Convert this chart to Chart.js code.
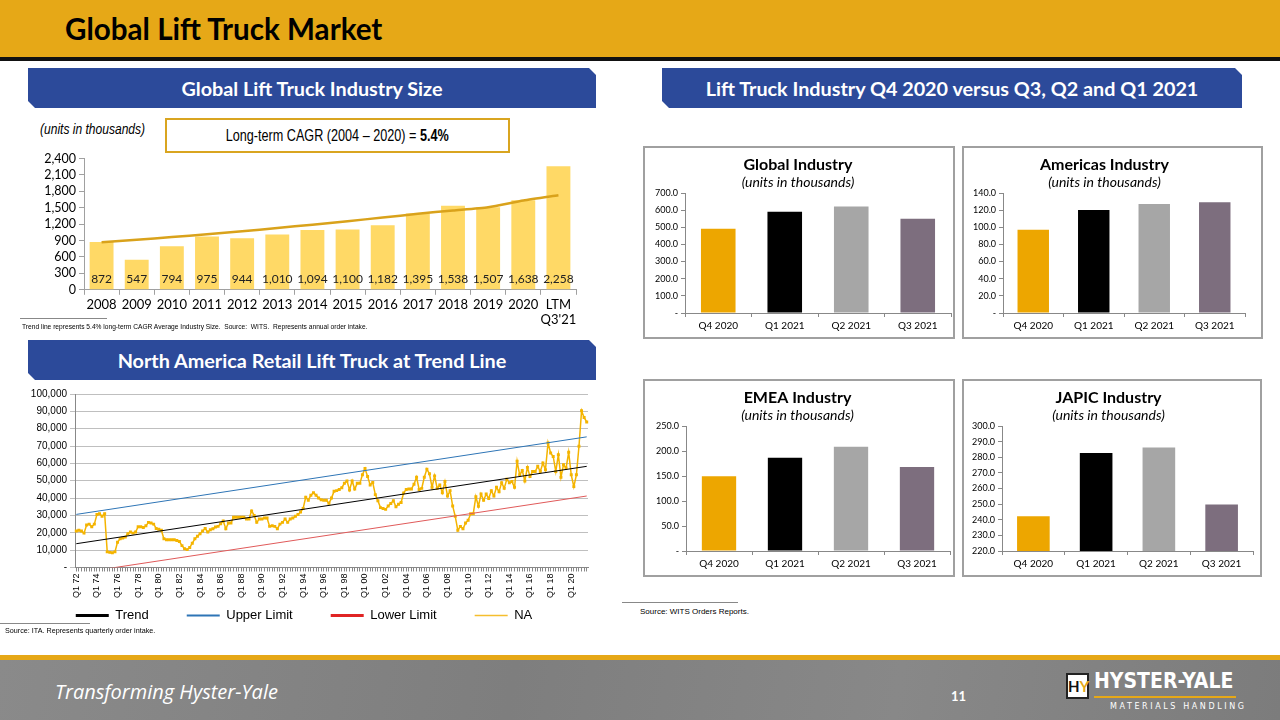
<!DOCTYPE html>
<html>
<head>
<meta charset="utf-8">
<script src="https://cdn.jsdelivr.net/npm/chart.js@4.4.0/dist/chart.umd.min.js"></script>
<style>
  body { margin:0; width:1280px; height:720px; position:relative; overflow:hidden; background:#fff; font-family:Lato, sans-serif; }
  .abs { position:absolute; }
  #hdr { left:0; top:0; width:1280px; height:57px; background:#E6A817; }
  #hdrline { left:0; top:57px; width:1280px; height:4px; background:#111; }
  #title { left:65px; top:11px; font:bold 29.6px Lato; color:#000; white-space:nowrap; }
  .banner { position:absolute; height:40px; background:#2C4A9A; color:#fff; font:bold 19.8px Lato; display:flex; align-items:center; justify-content:center;
    clip-path:polygon(0 0, calc(100% - 7px) 0, 100% 7px, 100% 100%, 7px 100%, 0 calc(100% - 7px)); }
  .box { position:absolute; border:2px solid #A0A0A0; box-sizing:border-box; }
  .note { position:absolute; font:8px "Liberation Sans", sans-serif; color:#000; white-space:nowrap; transform-origin:0 0; }
  .rule { position:absolute; height:1px; background:#888; }
  #units { left:40px; top:121px; font:italic 14px "Liberation Sans", sans-serif; white-space:nowrap; transform:scaleX(0.86); transform-origin:0 0; }
  #cagr { left:165px; top:118px; width:345px; height:35px; border:2px solid #D9A520; box-sizing:border-box; display:flex; align-items:center; justify-content:center;
    font:16px "Liberation Sans", sans-serif; }
  #cagr span { display:inline-block; white-space:nowrap; transform:scaleX(0.79); }
  #ftrline { left:0; top:655px; width:1280px; height:5px; background:#E6A817; }
  #ftr { left:0; top:660px; width:1280px; height:60px; background:linear-gradient(100deg,#8a8a8a,#7e7e7e 40%,#888 70%,#7c7c7c); }
  #tag { left:55px; top:678px; font:italic 20px "Open Sans", sans-serif; color:#fff; }
  #page { left:951px; top:688px; font:bold 13px Lato; color:#fff; }
  #logo { left:1066px; top:671px; }
  canvas { position:absolute; }
</style>
</head>
<body>
<div id="hdr" class="abs"></div>
<div id="hdrline" class="abs"></div>
<div id="title" class="abs">Global Lift Truck Market</div>

<div class="banner" style="left:28px;top:68px;width:568px;">Global Lift Truck Industry Size</div>
<div class="banner" style="left:662px;top:68px;width:580px;">Lift Truck Industry Q4 2020 versus Q3, Q2 and Q1 2021</div>
<div class="banner" style="left:28px;top:340px;width:568px;">North America Retail Lift Truck at Trend Line</div>

<div id="units" class="abs">(units in thousands)</div>
<div id="cagr" class="abs"><span>Long-term CAGR (2004 – 2020) = <b>5.4%</b></span></div>
<canvas id="sizeChart" width="570" height="182" style="left:20px;top:148px;"></canvas>
<div class="rule" style="left:20px;top:318px;width:87px;"></div>
<div class="note" style="left:22px;top:322px;transform:scaleX(0.83);">Trend line represents 5.4% long-term CAGR Average Industry Size.&nbsp; Source:&nbsp; WITS.&nbsp; Represents annual order intake.</div>

<canvas id="naChart" width="580" height="245" style="left:20px;top:385px;"></canvas>
<div class="rule" style="left:0;top:623px;width:90px;"></div>
<div class="note" style="left:5px;top:626px;transform:scaleX(0.9);">Source: ITA. Represents quarterly order intake.</div>

<div class="box" style="left:643px;top:146px;width:312px;height:193px;"></div>
<canvas id="globalChart" width="308" height="189" style="left:645px;top:148px;"></canvas>
<div class="box" style="left:962px;top:146px;width:301px;height:193px;"></div>
<canvas id="americasChart" width="297" height="189" style="left:964px;top:148px;"></canvas>
<div class="box" style="left:643px;top:379px;width:312px;height:198px;"></div>
<canvas id="emeaChart" width="308" height="194" style="left:645px;top:381px;"></canvas>
<div class="box" style="left:962px;top:379px;width:300px;height:198px;"></div>
<canvas id="japicChart" width="296" height="194" style="left:964px;top:381px;"></canvas>
<div class="rule" style="left:622px;top:602px;width:116px;"></div>
<div class="note" style="left:640px;top:607px;">Source: WITS Orders Reports.</div>

<div id="ftrline" class="abs"></div>
<div id="ftr" class="abs"></div>
<div id="tag" class="abs">Transforming Hyster-Yale</div>
<div id="page" class="abs">11</div>
<div id="logo" class="abs">
  <div style="position:absolute;left:0;top:2px;width:23px;height:26px;background:#fff;border:2px solid #222;box-sizing:border-box;font:bold 15px Lato;line-height:22px;text-align:center;"><span style="color:#111">H</span><span style="color:#E6A817">Y</span></div>
  <div style="position:absolute;left:28px;top:-2px;font:bold 21px 'DejaVu Sans Condensed','Liberation Sans',sans-serif;color:#fff;white-space:nowrap;">HYSTER-YALE</div>
  <div style="position:absolute;left:28px;top:25px;width:142px;height:2px;background:#E6A817;"></div>
  <div style="position:absolute;left:44px;top:31px;font:8px 'DejaVu Sans',sans-serif;letter-spacing:2.6px;color:#fff;white-space:nowrap;">MATERIALS HANDLING</div>
</div>

<script>
Chart.defaults.font.family = 'Lato';
Chart.defaults.color = '#000';

// Global lift truck industry size (thousands of units)
const years = ['2008','2009','2010','2011','2012','2013','2014','2015','2016','2017','2018','2019','2020',['LTM',"Q3'21"]];
const industrySize = [872,547,794,975,944,1010,1094,1100,1182,1395,1538,1507,1638,2258];
const cagrTrendLine = [870,915,965,1015,1070,1130,1190,1255,1320,1390,1450,1510,1632,1730];

// North America retail orders, quarterly Q1 72 .. Q3 21
const naQuarters = [];
for (let y = 1972; y <= 2021; y++) {
  for (let q = 1; q <= 4; q++) {
    if (y === 2021 && q > 3) break;
    naQuarters.push('Q' + q + ' ' + String(y).slice(2));
  }
}
const naOrders = [
  21000,21500,21000,19800, 24500,25000,23500,25000, 30500,31000,29500,31000, 9000,8700,8500,9000,
  14600,16500,17000,17500, 19500,20400,19800,20400, 23500,23500,23000,24000, 26000,25600,25000,22500,
  22000,21500,16500,16000, 16000,16000,16000,15500, 15000,12600,10800,10300, 11500,14000,16500,18000,
  19400,21000,22500,20400, 21700,22300,23300,23700, 25200,26800,22300,25600, 25600,29000,29000,29000,
  29000,29000,28000,28000, 32600,30000,26000,28000, 28000,28500,28500,23700, 24000,23700,22300,25000,
  26000,28000,26000,28000, 28500,29500,30500,32000, 34000,40500,38800,41700, 43100,41700,40000,39000,
  38800,38800,37000,40000, 44000,44300,45000,46000, 48500,49900,44700,49900, 45200,48500,48500,53500,
  57000,52400,47600,49000, 42000,38500,34500,34000, 33500,35500,36900,38500, 35000,36500,37500,43000,
  45000,45200,45200,48000, 52000,45000,45600,52000, 56700,54000,46200,52800, 45600,47600,43100,49500,
  41200,44300,35500,29500, 21400,23700,22300,25600, 27200,31000,31000,40800, 35300,42300,38800,42300,
  39800,44300,41200,46200, 43700,48900,45600,50900, 48900,49500,46200,61200, 53400,55900,49900,57700,
  52400,55300,55300,58300, 55300,60200,56300,71800, 66000,64000,55300,65000, 52000,59200,57300,66400,
  53400,46600,53400,69900, 90300,86400,83900
];
const trendEnds = [13700, 58300];
const upperEnds = [30600, 75300];
const lowerEnds = [-3400, 41200];

// Regional quarterly industry (thousands of units)
const regionQuarters = ['Q4 2020','Q1 2021','Q2 2021','Q3 2021'];
const globalUnits = [492, 590, 621, 550];
const americasUnits = [97.2, 120.3, 127.3, 129.2];
const emeaUnits = [149.5, 186.5, 208.3, 168.0];
const japicUnits = [242.3, 282.8, 286.2, 249.7];
const regionColors = ['#EDA600','#000000','#A6A6A6','#7D6E7E'];

const axisGray = '#A0A0A0';

// value labels sitting inside the bars near the base
const insideLabels = {
  id: 'insideLabels',
  afterDatasetsDraw(chart) {
    const ctx = chart.ctx;
    const yScale = chart.scales.y;
    ctx.save();
    ctx.font = '12px Lato';
    ctx.fillStyle = '#222';
    ctx.textAlign = 'center';
    ctx.textBaseline = 'middle';
    chart.getDatasetMeta(0).data.forEach((bar, i) => {
      ctx.fillText(industrySize[i].toLocaleString('en-US'), bar.x, yScale.getPixelForValue(200));
    });
    ctx.restore();
  }
};

new Chart(document.getElementById('sizeChart'), {
  type: 'bar',
  data: {
    labels: years,
    datasets: [
      { data: industrySize, backgroundColor: '#FFD966', barPercentage: 0.68, categoryPercentage: 1, order: 1 },
      { type: 'line', data: cagrTrendLine, borderColor: '#D9A21B', borderWidth: 2.5, pointRadius: 0, tension: 0.2, order: 0 }
    ]
  },
  options: {
    responsive: false, animation: false,
    layout: { padding: { top: 4, right: 14, left: 0, bottom: 0 } },
    plugins: { legend: { display: false }, tooltip: { enabled: false } },
    scales: {
      x: {
        grid: { drawOnChartArea: false, offset: true, color: axisGray, tickLength: 5 },
        border: { color: axisGray },
        ticks: { font: { size: 13 }, maxRotation: 0, autoSkip: false, padding: 2 }
      },
      y: {
        min: 0, max: 2400,
        ticks: { stepSize: 300, autoSkip: false, font: { size: 12.5 }, callback: v => v.toLocaleString('en-US') },
        grid: { drawOnChartArea: false, color: axisGray, tickLength: 5 },
        border: { color: axisGray },
        afterFit(s) { s.width = 64; }
      }
    }
  },
  plugins: [insideLabels]
});

const legendLines = [
  { color: '#000000', width: 3 },
  { color: '#2E75B6', width: 2 },
  { color: '#E02424', width: 3 },
  { color: '#F5BE2E', width: 1.6 }
];

// wide gaps between legend items without a tall legend box:
// reserve a short box, then stretch its top upward so the padded row fits inside the clip
const legendSpacing = {
  id: 'legendSpacing',
  beforeInit(chart) {
    const fit = chart.legend.fit;
    chart.legend.fit = function () { fit.call(this); this.height = 30; };
  },
  afterLayout(chart) {
    chart.legend.top -= 29;
  }
};

new Chart(document.getElementById('naChart'), {
  type: 'line',
  data: {
    labels: naQuarters,
    datasets: [
      { label: 'Trend', data: [{ x: naQuarters[0], y: trendEnds[0] }, { x: naQuarters[naQuarters.length - 1], y: trendEnds[1] }],
        borderColor: '#000', borderWidth: 1, pointRadius: 0 },
      { label: 'Upper Limit', data: [{ x: naQuarters[0], y: upperEnds[0] }, { x: naQuarters[naQuarters.length - 1], y: upperEnds[1] }],
        borderColor: '#2E75B6', borderWidth: 1, pointRadius: 0 },
      { label: 'Lower Limit', data: [{ x: naQuarters[0], y: lowerEnds[0] }, { x: naQuarters[naQuarters.length - 1], y: lowerEnds[1] }],
        borderColor: '#E05A5A', borderWidth: 1, pointRadius: 0 },
      { label: 'NA', data: naOrders, borderColor: '#F4B400', borderWidth: 1.5, pointStyle: 'rect', pointRadius: 2.1,
        pointBackgroundColor: '#F4B400', pointBorderWidth: 0 }
    ]
  },
  options: {
    responsive: false, animation: false,
    layout: { padding: { top: 4, right: 12, left: 0, bottom: 0 } },
    plugins: {
      tooltip: { enabled: false },
      legend: {
        position: 'bottom',
        labels: {
          usePointStyle: true, pointStyleWidth: 33, padding: 38, color: '#000',
          font: { family: 'Liberation Sans', size: 13 },
          generateLabels: chart => chart.data.datasets.map((d, i) => ({
            text: d.label, strokeStyle: legendLines[i].color, fillStyle: legendLines[i].color,
            lineWidth: legendLines[i].width, pointStyle: 'line', datasetIndex: i, hidden: false
          }))
        }
      }
    },
    scales: {
      x: {
        offset: true,
        grid: { drawOnChartArea: false, color: '#888', tickLength: 4 },
        border: { color: '#888' },
        ticks: { autoSkip: false, minRotation: 90, maxRotation: 90, padding: 2,
          font: { family: 'Liberation Sans', size: 9 },
          callback: (v, i) => (i % 8 === 0 ? naQuarters[i] : '') }
      },
      y: {
        min: 0, max: 100000,
        ticks: { stepSize: 10000, autoSkip: false, font: { family: 'Liberation Sans', size: 10 },
          callback: v => (v === 0 ? '-' : v.toLocaleString('en-US')) },
        grid: { color: '#BFBFBF', tickLength: 5 },
        border: { color: '#888' },
        afterFit(s) { s.width = 55; }
      }
    }
  },
  plugins: [legendSpacing]
});

function regionChart(id, title, values, min, max, step, yWidth, padRight) {
  new Chart(document.getElementById(id), {
    type: 'bar',
    data: { labels: regionQuarters, datasets: [{ data: values, backgroundColor: regionColors, barPercentage: 0.52, categoryPercentage: 1 }] },
    options: {
      responsive: false, animation: false,
      layout: { padding: { left: 0, right: padRight, top: 0, bottom: 2 } },
      plugins: {
        legend: { display: false }, tooltip: { enabled: false },
        title: { display: true, text: title, color: '#000', font: { size: 16, weight: 'bold' }, padding: { top: 7, bottom: 0 } },
        subtitle: { display: true, text: '(units in thousands)', color: '#000', font: { size: 14, style: 'italic' }, padding: { top: 0, bottom: 2 } }
      },
      scales: {
        x: {
          grid: { drawOnChartArea: false, offset: true, color: '#888', tickLength: 4 },
          border: { color: '#888' },
          ticks: { font: { size: 10 }, padding: 3 }
        },
        y: {
          min: min, max: max,
          ticks: { stepSize: step, autoSkip: false, font: { size: 9 }, callback: v => (v === 0 ? '-' : v.toFixed(1)) },
          grid: { drawOnChartArea: false, color: '#888', tickLength: 4 },
          border: { color: '#888' },
          afterFit(s) { s.width = yWidth; }
        }
      }
    }
  });
}

regionChart('globalChart', 'Global Industry', globalUnits, 0, 700, 100, 40, 2);
regionChart('americasChart', 'Americas Industry', americasUnits, 0, 140, 20, 39, 16);
regionChart('emeaChart', 'EMEA Industry', emeaUnits, 0, 250, 50, 41, 3);
regionChart('japicChart', 'JAPIC Industry', japicUnits, 220, 300, 10, 38, 7);
</script>
</body>
</html>
